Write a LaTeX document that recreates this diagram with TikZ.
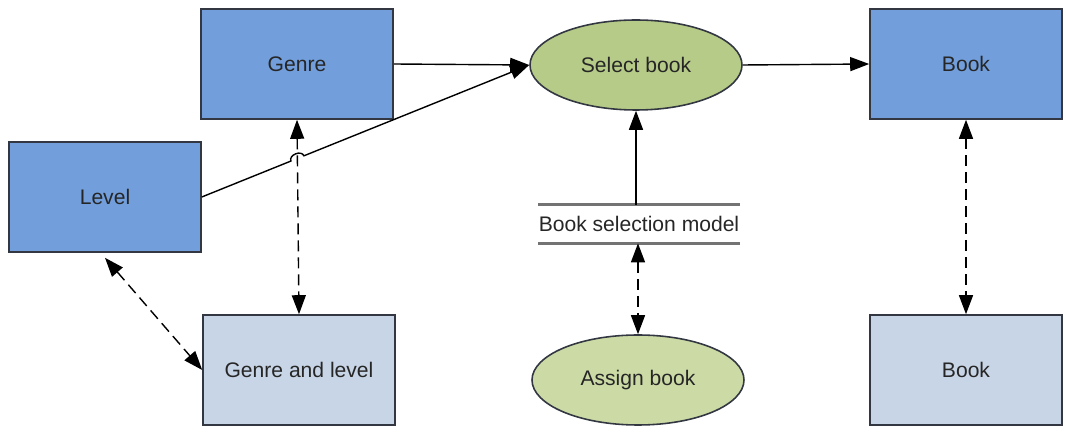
\documentclass[tikz,border=0pt]{standalone}
\usepackage{fontspec}
\setmainfont{Liberation Sans}
\usetikzlibrary{arrows.meta, positioning, shapes.geometric, calc}

\definecolor{entblue}{RGB}{114,159,220}
\definecolor{storeblue}{RGB}{200,213,230}
\definecolor{procgreen}{RGB}{183,203,136}
\definecolor{proclight}{RGB}{204,219,166}
\definecolor{edgegray}{RGB}{50,55,65}

\begin{document}
\begin{tikzpicture}[
    >={Triangle[length=0.38cm, width=0.28cm]},
    lbl/.style={font=\fontsize{12}{14}\selectfont, text=black!85},
    box/.style={lbl, draw=edgegray, line width=0.9pt, minimum width=3.84cm,
                minimum height=2.2cm},
    oval/.style={lbl, ellipse, draw=edgegray, line width=0.9pt,
                 minimum width=4.24cm, minimum height=1.8cm},
    flow/.style={->, line width=0.8pt},
    link/.style={<->, line width=0.8pt, dash pattern=on 0.22cm off 0.12cm}
  ]
  \useasboundingbox (0,0) rectangle (21.32,8.86);

  % Entities
  \node[box, fill=entblue] (genre) at (5.94, 7.58) {Genre};
  \node[box, fill=entblue] (level) at (2.10, 4.92) {Level};
  \node[box, fill=entblue] (book) at (19.32, 7.58) {Book};
  \node[box, fill=storeblue] (genlev) at (5.98, 1.46) {Genre and level};
  \node[box, fill=storeblue] (bookrel) at (19.32, 1.46) {Book};

  % Processes
  \node[oval, fill=procgreen] (select) at (12.72, 7.56) {Select book};
  \node[oval, fill=proclight] (assign) at (12.76, 1.26) {Assign book};

  % Data store
  \node[lbl, minimum width=3.9cm, minimum height=0.76cm, inner sep=0pt]
    (model) at (12.78, 4.38) {Book selection model};
  \draw[gray!90!black, line width=1.5pt] (model.north west) -- (model.north east);
  \draw[gray!90!black, line width=1.5pt] (model.south west) -- (model.south east);

  % Flows
  \draw[flow] (genre.east) -- (select.west);
  \draw[flow] (select.east) -- (book.west);
  \draw[flow] (model.north -| select.south) -- (select.south);

  % Level flow, hopping over the dashed link
  \coordinate (hop) at (intersection of level.east--select.west
                        and genre.south--genlev.north);
  \coordinate (h1) at ($(hop)!0.14cm!(level.east)$);
  \coordinate (h2) at ($(hop)!0.14cm!(select.west)$);
  \draw[flow] (level.east) -- (h1) to[bend left=90, looseness=1.2] (h2)
    -- (select.west);

  % Links
  \draw[link] (genre.south) -- (genlev.north);
  \draw[link] ([yshift=-0.1cm]level.south) -- (genlev.west);
  \draw[link] (model.south -| assign.north) -- (assign.north);
  \draw[link] (book.south) -- (bookrel.north);
\end{tikzpicture}
\end{document}
